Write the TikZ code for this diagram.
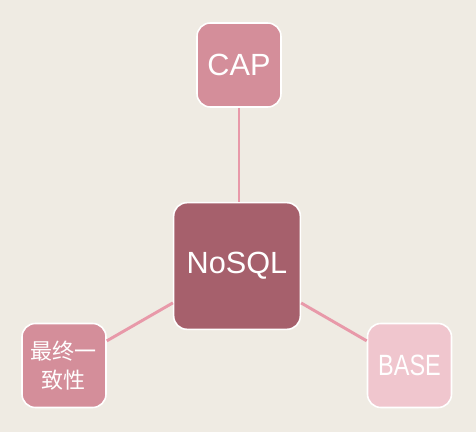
\documentclass[tikz,border=0pt]{standalone}
\usepackage{fontspec}
\setmainfont{Liberation Sans}
\newfontfamily\cjk{Noto Sans CJK SC}
\usetikzlibrary{positioning}
\definecolor{bgbeige}{HTML}{EFEBE3}
\definecolor{darkrose}{HTML}{A6606C}
\definecolor{midrose}{HTML}{D48E9A}
\definecolor{lightrose}{HTML}{F0C6CE}
\definecolor{linkpink}{HTML}{E899A9}

\begin{document}
\begin{tikzpicture}[x=0.75pt, y=-0.75pt,
  box/.style={draw=white, line width=1.2pt, rounded corners=10pt, text=white, inner sep=0pt, align=center},
  link/.style={draw=linkpink, line width=2.2pt}]
\fill[bgbeige] (0,0) rectangle (476,432);
\useasboundingbox (0,0) rectangle (476,432);

\node[box, fill=darkrose, minimum width=95pt, minimum height=95pt, font=\fontsize{23}{27}\selectfont] (nosql) at (237,266) {NoSQL};
\node[box, fill=midrose, minimum width=63pt, minimum height=63pt, font=\fontsize{23}{27}\selectfont] (cap) at (239,65) {CAP};
\node[box, fill=midrose, minimum width=63pt, minimum height=63pt, font=\cjk\fontsize{16.5}{21.5}\selectfont] (eventual) at (64,365.5) {最终一\\致性};
\node[box, fill=lightrose, minimum width=63pt, minimum height=63pt, font=\fontsize{20}{24}\selectfont] (base) at (409.5,365.5) {\scalebox{0.88}[1.1]{BASE}};

\draw[link] (cap) -- (cap |- nosql.north);
\draw[link] (nosql) -- (eventual);
\draw[link] (nosql) -- (base);
\end{tikzpicture}
\end{document}
